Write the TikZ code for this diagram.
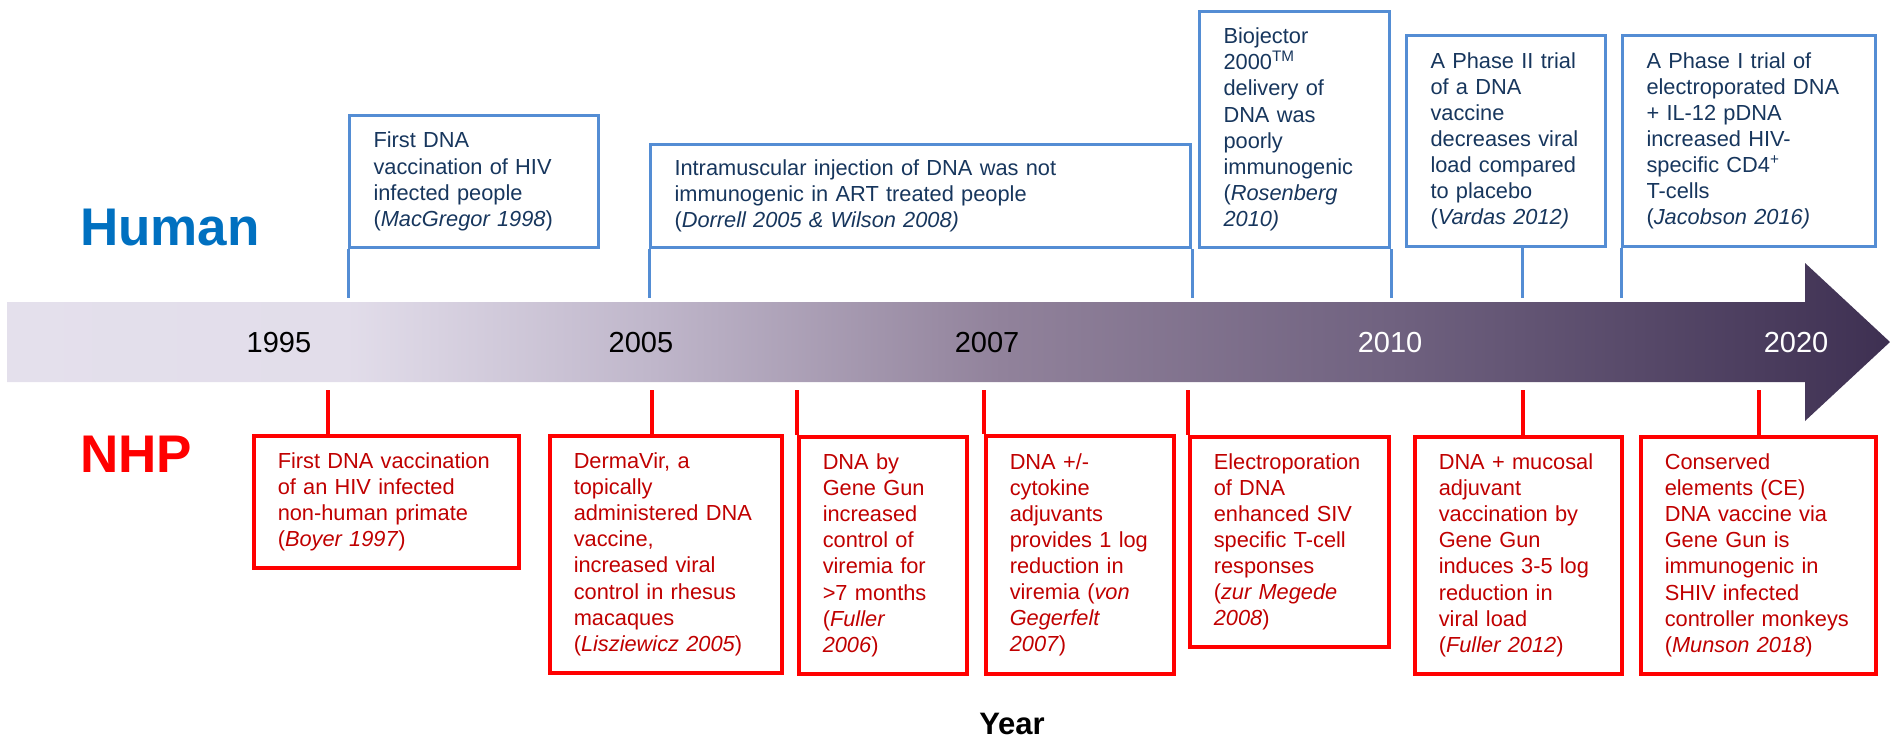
\documentclass[tikz,border=0pt]{standalone}
\usepackage{fontspec}
\setmainfont{Liberation Sans}

\definecolor{hblue}{RGB}{84,141,212}
\definecolor{htext}{RGB}{23,54,93}
\definecolor{hlabel}{RGB}{0,112,192}
\definecolor{ntext}{RGB}{192,0,0}
\definecolor{barA}{RGB}{228,224,236}
\definecolor{barB}{RGB}{226,221,234}
\definecolor{barC}{RGB}{192,183,203}
\definecolor{barD}{RGB}{145,130,155}
\definecolor{barE}{RGB}{112,98,128}
\definecolor{barF}{RGB}{62,48,82}

\pgfdeclarehorizontalshading{timebar}{100bp}{color(0bp)=(barA); color(25bp)=(barA);
  color(34bp)=(barB); color(42bp)=(barC); color(51.4bp)=(barD); color(61.7bp)=(barE);
  color(75bp)=(barF); color(100bp)=(barF)}

\newcommand\evfont{\fontsize{10.9}{13.05}\selectfont}

\tikzset{
  event/.style={anchor=north west, align=left, inner xsep=12pt, inner ysep=0pt, font=\evfont},
  humanbox/.style={event, draw=hblue, line width=1.5pt, text=htext},
  nhpbox/.style={event, draw=red, line width=1.75pt, text=ntext},
  hstem/.style={draw=hblue, line width=1.5pt},
  nstem/.style={draw=red, line width=1.75pt},
  yearlbl/.style={font=\fontsize{14.5}{17}\selectfont},
}

\begin{document}
\begin{tikzpicture}[x=0.5pt,y=-0.5pt]
  \useasboundingbox (0,0) rectangle (1891,740);
  % time bar
  \shade[shading=timebar] (7,302) -- (1805,302) -- (1805,263) -- (1890,342)
    -- (1805,421) -- (1805,382) -- (7,382) -- cycle;
  \node[yearlbl] (y1995) at (279,343) {1995};
  \node[yearlbl] (y2005) at (641,343) {2005};
  \node[yearlbl] (y2007) at (987,343) {2007};
  \node[yearlbl, text=white] (y2010) at (1390,343) {2010};
  \node[yearlbl, text=white] (y2020) at (1796,343) {2020};
  \coordinate (hbar) at (0,298);
  \coordinate (nbar) at (0,390);

  % side labels
  \node[font=\fontsize{26.5}{30}\selectfont\bfseries, text=hlabel] (human) at (170,228) {Human};
  \node[font=\fontsize{26.5}{30}\selectfont\bfseries, text=red] (nhp) at (136,454) {NHP};
  \node[font=\fontsize{15.5}{18}\selectfont\bfseries] (year) at (1012,724) {Year};

  % human events
  \node[humanbox, text width=100.5pt, minimum height=66pt] (h1) at (348,114)
    {First DNA\\ vaccination of HIV\\ infected people\\ (\textit{MacGregor 1998})};
  \node[humanbox, text width=246pt, minimum height=51.5pt] (h2) at (649,143)
    {Intramuscular injection of DNA was not\\ immunogenic in ART treated people\\ (\textit{Dorrell 2005 \& Wilson 2008)}};
  \node[humanbox, text width=71pt, minimum height=118pt] (h3) at (1198,10)
    {Biojector\\ 2000\textsuperscript{TM}\\ delivery of\\ DNA was\\ poorly\\ immunogenic\\ (\textit{Rosenberg}\\ \textit{2010)}};
  \node[humanbox, text width=75.5pt, minimum height=105.5pt] (h4) at (1405,34)
    {A Phase II trial\\ of a DNA\\ vaccine\\ decreases viral\\ load compared\\ to placebo\\ (\textit{Vardas 2012)}};
  \node[humanbox, text width=102.5pt, minimum height=105.5pt] (h5) at (1621,34)
    {A Phase I trial of\\ electroporated DNA\\ + IL-12 pDNA\\ increased HIV-\\ specific CD4\textsuperscript{+}\\ T-cells\\ (\textit{Jacobson 2016)}};
  \coordinate (h4t) at (1522,298);
  \draw[hstem] (h1.south west) -- (h1.south west |- hbar);
  \draw[hstem] (h2.south west) -- (h2.south west |- hbar);
  \draw[hstem] (h2.south east) -- (h2.south east |- hbar);
  \draw[hstem] (h3.south east) -- (h3.south east |- hbar);
  \draw[hstem] (h4t |- h4.south) -- (h4t);
  \draw[hstem] (h5.south west) -- (h5.south west |- hbar);

  % nhp events
  \node[nhpbox, text width=108.5pt, minimum height=66pt] (n1) at (252,434)
    {First DNA vaccination\\ of an HIV infected\\ non-human primate\\ (\textit{Boyer 1997})};
  \node[nhpbox, text width=92pt, minimum height=118.5pt] (n2) at (548,434)
    {DermaVir, a\\ topically\\ administered DNA\\ vaccine,\\ increased viral\\ control in rhesus\\ macaques\\ (\textit{Lisziewicz 2005})};
  \node[nhpbox, text width=60pt, minimum height=118.5pt] (n3) at (797,435)
    {DNA by\\ Gene Gun\\ increased\\ control of\\ viremia for\\ >7 months\\ (\textit{Fuller}\\ \textit{2006})};
  \node[nhpbox, text width=70pt, minimum height=119pt] (n4) at (984,434)
    {DNA +/-\\ cytokine\\ adjuvants\\ provides 1 log\\ reduction in\\ viremia (\textit{von}\\ \textit{Gegerfelt}\\ \textit{2007})};
  \node[nhpbox, text width=75.5pt, minimum height=105pt] (n5) at (1188,435)
    {Electroporation\\ of DNA\\ enhanced SIV\\ specific T-cell\\ responses\\ (\textit{zur Megede}\\ \textit{2008})};
  \node[nhpbox, text width=79.5pt, minimum height=118.5pt] (n6) at (1413,435)
    {DNA + mucosal\\ adjuvant\\ vaccination by\\ Gene Gun\\ induces 3-5 log\\ reduction in\\ viral load\\ (\textit{Fuller 2012})};
  \node[nhpbox, text width=93.5pt, minimum height=118.5pt] (n7) at (1639,435)
    {Conserved\\ elements (CE)\\ DNA vaccine via\\ Gene Gun is\\ immunogenic in\\ SHIV infected\\ controller monkeys\\ (\textit{Munson 2018})};
  \coordinate (n1t) at (328,390);
  \coordinate (n2t) at (652,390);
  \coordinate (n6t) at (1523,390);
  \coordinate (n7t) at (1759,390);
  \draw[nstem] (n1t) -- (n1t |- n1.north);
  \draw[nstem] (n2t) -- (n2t |- n2.north);
  \draw[nstem] (n3.north west |- nbar) -- (n3.north west);
  \draw[nstem] (n4.north west |- nbar) -- (n4.north west);
  \draw[nstem] (n5.north west |- nbar) -- (n5.north west);
  \draw[nstem] (n6t) -- (n6t |- n6.north);
  \draw[nstem] (n7t) -- (n7t |- n7.north);
\end{tikzpicture}
\end{document}
